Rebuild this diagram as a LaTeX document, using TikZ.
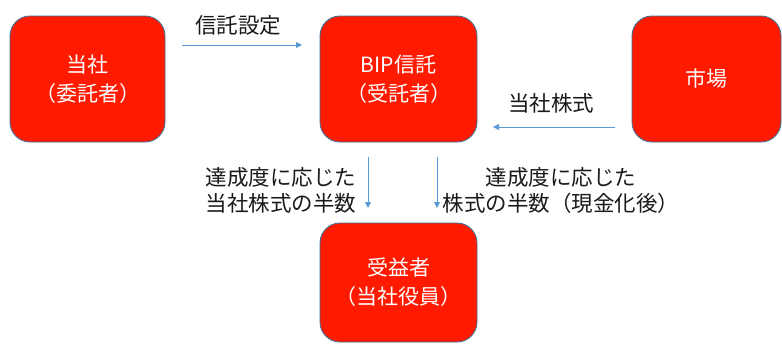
\documentclass[tikz,border=0pt]{standalone}
\usepackage{fontspec}
\newfontfamily\jp{Noto Sans CJK JP}
\usetikzlibrary{arrows.meta}
\definecolor{boxred}{HTML}{FF1A00}
\definecolor{boxedge}{HTML}{41719C}
\definecolor{arrowblue}{HTML}{5B9BD5}
\definecolor{labeltext}{HTML}{1A1A1A}
\begin{document}
\begin{tikzpicture}[x=1pt,y=-1pt,
  redbox/.style={draw=boxedge,line width=0.9pt,fill=boxred,rounded corners=20pt,
    text=white,align=center,inner sep=0pt,
    font=\jp\fontsize{21}{29}\selectfont},
  lbl/.style={text=labeltext,align=center,inner sep=0pt,
    font=\jp\fontsize{21.5}{25.5}\selectfont},
  flow/.style={draw=arrowblue,line width=0.9pt,-{Triangle[length=6pt,width=6pt]}}
]
\useasboundingbox[fill=white] (0,0) rectangle (782,343);
\node[redbox,minimum width=155pt,minimum height=126pt] (company) at (87.5,79) {当社\\（委託者）};
\node[redbox,minimum width=157pt,minimum height=126pt] (trust) at (398.5,79) {BIP信託\\（受託者）};
\node[redbox,minimum width=149pt,minimum height=126pt] (market) at (706.5,79) {市場};
\node[redbox,minimum width=157pt,minimum height=119pt] (benef) at (398.5,282.5) {受益者\\（当社役員）};

\node[lbl] (l1) at (238,25) {信託設定};
\node[lbl] (l2) at (551,103) {当社株式};
\node[lbl] (l3) at (281,190.5) {達成度に応じた\\当社株式の半数};
\node[lbl] (l4) at (561,190.5) {達成度に応じた\\株式の半数（現金化後）};

\coordinate (a1s) at (182,45);
\coordinate (a1e) at (302,45);
\coordinate (a2s) at (615,127);
\coordinate (a2e) at (493,127);
\coordinate (a3s) at (368,157);
\coordinate (a3e) at (368,208);
\coordinate (a4s) at (437,157);
\coordinate (a4e) at (437,208);
\draw[flow] (a1s) -- (a1e);
\draw[flow] (a2s) -- (a2e);
\draw[flow] (a3s) -- (a3e);
\draw[flow] (a4s) -- (a4e);
\end{tikzpicture}
\end{document}
